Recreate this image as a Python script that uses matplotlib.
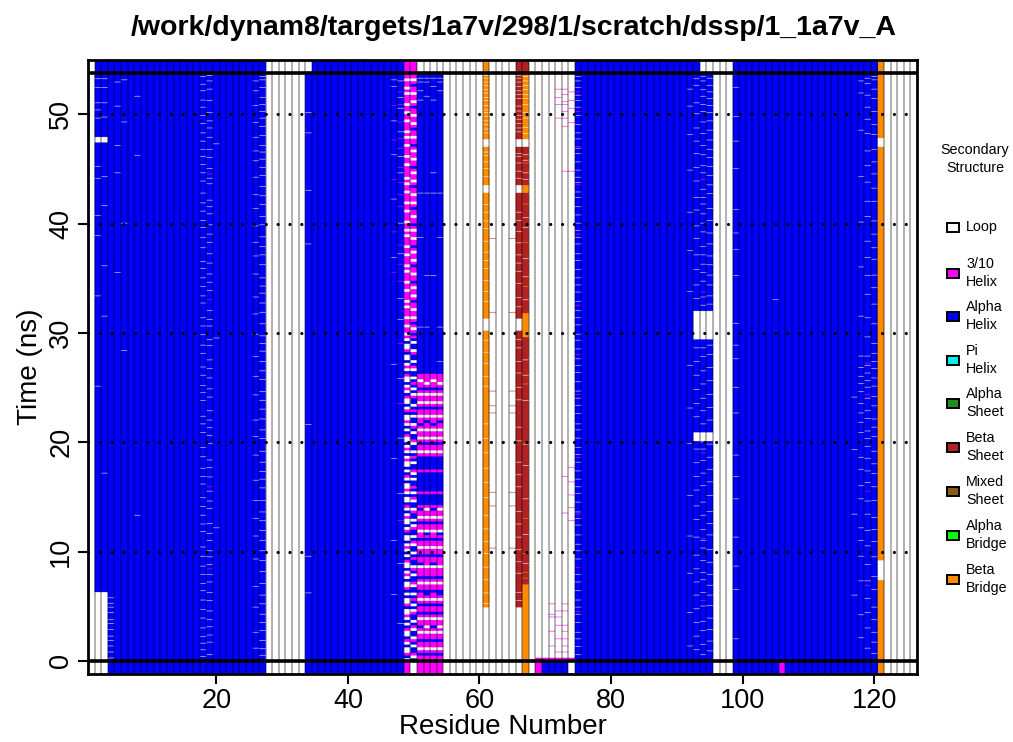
import numpy as np
import matplotlib
matplotlib.use("Agg")
import matplotlib.pyplot as plt
from matplotlib.colors import to_rgb
from matplotlib.patches import Rectangle

plt.rcParams['font.family'] = ['Liberation Sans', 'DejaVu Sans']

# D A T O S
titulo = "/work/dynam8/targets/1a7v/298/1/scratch/dssp/1_1a7v_A"
n_res = 126
t_fin = 53.75      # ns, ultimo frame
dt = 0.05          # ns por fila de la matriz
y_bot, y_top = -1.2, 54.95

estados = ["Loop", "3/10\nHelix", "Alpha\nHelix", "Pi\nHelix", "Alpha\nSheet",
           "Beta\nSheet", "Mixed\nSheet", "Alpha\nBridge", "Beta\nBridge"]
colores = ["#ffffff", "#ff00ff", "#0000ff", "#00eeee", "#228b22",
           "#b22222", "#8b5a14", "#00ff00", "#ff8c00"]
codigos = "LGHIAEMbB"

# estructura por residuo: (codigo, numero de residuos seguidos)
ref_runs = [("L", 1), ("H", 26), ("L", 7), ("H", 14), ("G", 2), ("L", 10), ("B", 1),
            ("L", 4), ("E", 2), ("L", 7), ("H", 19), ("L", 5), ("H", 22), ("B", 1), ("L", 5)]
ini_runs = [("L", 3), ("H", 24), ("L", 6), ("H", 15), ("G", 1), ("L", 1), ("G", 4), ("L", 12),
            ("B", 1), ("L", 1), ("G", 1), ("H", 4), ("L", 1), ("H", 21), ("L", 3), ("H", 7),
            ("G", 1), ("H", 14), ("B", 1), ("L", 5)]
base_runs = [("L", 1), ("H", 26), ("L", 6), ("H", 15), ("G", 2), ("H", 4), ("L", 6), ("B", 1),
             ("L", 4), ("E", 2), ("L", 7), ("H", 21), ("L", 3), ("H", 22), ("B", 1), ("L", 5)]

# tramos: (res_ini, res_fin, t_ini, t_fin, codigo)
tramos = [
    (2, 3, 0.0, 6.3, "L"), (2, 3, 47.4, 47.9, "L"),
    (51, 54, 0.0, 26.2, "G"), (51, 54, 14.2, 18.7, "H"),
    (61, 61, 0.0, 4.9, "L"), (61, 61, 47.0, 47.7, "L"), (61, 61, 42.8, 43.5, "L"),
    (61, 61, 30.2, 31.3, "L"),
    (66, 66, 0.0, 4.9, "L"), (67, 67, 0.0, 7.0, "B"), (67, 67, 47.7, 53.75, "B"),
    (66, 67, 47.0, 47.7, "L"), (66, 66, 42.8, 43.5, "L"), (67, 67, 42.8, 43.5, "B"),
    (66, 66, 30.2, 31.3, "L"), (67, 67, 29.6, 31.8, "B"),
    (69, 74, 0.0, 0.3, "G"),
    (93, 95, 29.4, 32.0, "L"), (93, 95, 20.1, 20.9, "L"),
    (121, 121, 47.0, 47.8, "L"), (121, 121, 7.4, 9.2, "L"),
]

t_puente = [38.6, 31.9, 24.7, 23.3, 22.7, 15.4, 14.2, 10.3]

# rayas finas: (residuo, codigo, tiempos)
rayas = [
    (4, "L", [0.3, 0.8, 1.4, 1.9, 2.3, 2.9, 3.4, 3.8, 4.4, 4.9, 5.3, 5.8]),
    (2, "L", [53.2, 52.4, 51.0, 50.4, 49.6, 45.2, 44.1, 40.7, 38.9, 33.4, 25.1]),
    (3, "L", [53.2, 52.4, 51.0, 49.7, 44.3, 41.6, 36.1, 31.5, 17.2]),
    (5, "L", [52.9, 50.7, 47.1, 44.6, 35.5]),
    (6, "L", [53.1, 49.3, 40.0, 28.4]),
    (8, "L", [51.6, 46.2, 13.3]),
    (18, "L", [53.4, 52.7, 52.1, 51.3, 50.6, 49.9, 49.1, 48.3, 47.5, 46.8, 46.1, 45.4, 44.6,
               43.9, 42.8, 41.9, 41.1, 40.3, 39.6, 38.7, 37.8, 36.5, 35.9, 35.0, 34.2, 33.4,
               32.7, 31.4, 30.6, 29.8, 28.9, 28.1, 26.9, 26.1, 25.2, 24.5, 23.8, 22.4, 21.7,
               20.9, 19.5, 18.7, 17.6, 16.9, 16.2, 14.9, 14.1, 13.3, 12.5, 11.8, 10.4, 9.6,
               8.7, 7.9, 7.1, 6.4, 5.6, 4.7, 3.9, 3.0, 2.2, 1.6, 1.0, 0.4]),
    (19, "L", [53.5, 53.0, 52.3, 51.2, 50.1, 49.4, 48.7, 47.9, 46.8, 46.0, 45.0, 44.1, 43.6,
               42.1, 41.5, 40.9, 39.9, 39.0, 38.3, 37.2, 36.4, 35.4, 34.6, 33.9, 32.0, 31.2,
               30.6, 29.4, 28.8, 27.5, 26.7, 25.9, 24.9, 24.1, 22.9, 22.0, 21.3, 20.6, 19.9,
               18.4, 17.7, 16.8, 15.5, 14.6, 13.9, 12.6, 11.7, 11.0, 10.1, 9.5, 8.8, 7.9,
               7.2, 6.3, 5.5, 4.6, 3.8, 3.1, 2.4, 1.7, 0.6]),
    (19, "G", [44.5, 33.0, 15.9, 8.4]),
    (20, "L", [47.3, 29.5, 12.2]),
    (26, "L", [53.0, 52.1, 50.8, 49.2, 47.9, 46.6, 45.7, 44.2, 42.6, 41.4, 39.8, 38.3, 37.0,
               35.4, 33.3, 31.7, 29.9, 27.8, 26.0, 24.3, 22.0, 20.5, 18.8, 16.5, 14.7, 13.0,
               11.4, 9.3, 6.8, 4.9, 2.6, 1.2]),
    (27, "L", [53.4, 53.1, 52.4, 51.5, 50.9, 50.2, 49.6, 48.9, 48.0, 47.1, 46.5, 45.9, 45.1,
               44.4, 43.4, 42.5, 41.7, 40.6, 39.9, 38.8, 37.9, 37.1, 36.2, 35.0, 34.3, 33.6,
               32.7, 31.9, 30.8, 29.7, 29.0, 28.3, 27.4, 26.5, 25.7, 24.6, 23.8, 23.0, 22.1,
               21.1, 20.3, 19.2, 18.2, 17.3, 16.6, 15.8, 14.7, 13.6, 12.8, 11.9, 11.0, 10.1,
               9.2, 8.2, 7.1, 6.0, 5.2, 4.3, 3.5, 2.8, 1.9, 1.1, 0.5]),
    (34, "L", [50.1, 48.3, 43.0, 38.1, 21.6, 9.6, 6.2]),
    (47, "G", [50.8, 47.6, 44.0, 39.2, 35.5]),
    (47, "L", [53.1, 52.5, 49.4, 46.3, 42.2, 36.9, 27.1, 18.5, 11.0, 6.1]),
    (48, "G", [52.0, 50.9, 49.3, 47.8, 46.9, 45.1, 43.7, 42.6, 41.5, 38.0, 36.3, 34.7, 29.0,
               23.5, 12.8]),
    (48, "L", [53.0, 51.5, 50.5, 48.4, 46.1, 44.6, 40.0, 37.2, 33.1, 31.2, 25.8, 20.4, 15.3,
               8.9, 3.4]),
    (51, "L", [53.3, 52.9, 52.1, 51.3, 42.8, 38.7, 30.5]),
    (52, "L", [53.3, 52.9, 51.6, 42.8, 35.2, 30.5]),
    (53, "L", [53.3, 52.5, 51.3, 42.8, 44.6, 35.2]),
    (54, "L", [53.3, 52.9, 52.1, 42.8, 38.7, 30.5, 27.4]),
    (61, "L", [53.5, 53.3, 52.9, 52.6, 52.2, 51.9, 51.5, 51.2, 50.8, 50.4, 50.1, 49.8, 49.4,
               49.0, 48.6, 48.3, 46.5, 46.2, 45.6, 45.0, 44.3, 41.7, 41.0, 40.2, 39.5, 38.4,
               37.4, 36.6, 35.9, 34.8, 33.8, 32.9, 29.3, 28.2, 27.2, 26.0, 25.1, 21.7, 20.3,
               19.0, 17.6, 16.3, 14.9, 13.3, 12.1, 10.9, 9.8, 8.6, 7.4, 6.2, 5.3]),
    (66, "L", [53.5, 53.3, 52.9, 52.5, 52.1, 51.8, 51.4, 50.7, 50.3, 49.9, 49.5, 49.1, 48.7,
               48.4, 46.4, 46.1, 45.5, 44.8, 44.1, 41.0, 40.3, 39.3, 38.2, 37.1, 36.4, 35.6,
               34.5, 33.2, 32.4, 29.4, 28.6, 27.4, 26.3, 25.0, 23.9, 21.4, 20.1, 18.2, 17.0,
               15.9, 13.7, 12.5, 11.3, 10.2, 9.1, 8.0, 6.3, 5.5]),
    (67, "L", [53.4, 53.0, 52.6, 52.2, 51.8, 51.4, 50.9, 50.1, 49.6, 48.8, 48.2, 46.3, 45.8,
               44.6, 44.0, 40.5, 39.6, 36.8, 35.1, 33.0, 27.5, 26.1, 23.8, 19.8, 17.9, 14.8,
               11.6, 8.9]),
    (67, "B", [45.5, 41.8, 38.3, 34.2, 25.3, 13.0, 9.8, 8.1, 7.6]),
    (62, "E", t_puente),
    (65, "E", t_puente),
    (72, "G", [52.3, 51.5, 50.9, 49.6]),
    (73, "G", [52.3, 51.8, 51.1, 50.9, 50.2, 49.6, 48.9, 44.8, 16.9, 13.5]),
    (74, "G", [52.0, 51.2, 50.5, 49.2, 44.8, 17.7, 16.4, 15.2, 14.0, 12.8]),
    (71, "G", [5.2, 4.3, 4.0, 2.7, 1.4]),
    (72, "G", [4.6, 4.0, 3.3, 2.0, 0.8]),
    (73, "G", [5.2, 4.6, 3.3, 2.7, 2.0, 1.4, 0.8]),
    (75, "L", [53.4, 53.0, 52.4, 51.7, 51.2, 50.6, 49.9, 49.0, 48.3, 47.7, 46.9, 46.4, 45.6,
               44.9, 44.2, 43.7, 42.9, 42.4, 41.5, 40.8, 40.0, 39.4, 38.7, 38.1, 37.2, 36.6,
               35.8, 35.0, 34.4, 33.7, 32.9, 32.0, 31.4, 30.7, 29.9, 29.3, 28.5, 27.6, 27.0,
               26.4, 25.5, 24.7, 24.0, 23.4, 22.6, 21.7, 21.1, 20.4, 19.5, 18.9, 18.2, 17.4,
               16.6, 15.9, 15.3, 14.5, 13.6, 13.0, 12.4, 11.5, 10.7, 10.1, 9.3, 8.5, 7.9,
               7.2, 6.4, 5.6, 4.9, 4.3, 3.5, 2.6, 2.0, 1.3, 0.6]),
    (75, "G", [52.0, 50.2, 47.0, 43.5, 39.0, 32.5, 28.0, 24.4, 18.6, 13.4, 8.5, 4.5]),
    (92, "L", [52.3, 50.7, 48.1, 44.9, 41.0, 37.5, 33.8, 27.0, 23.1, 19.9, 15.1, 11.4, 8.0,
               4.4, 1.4]),
    (93, "L", [53.2, 52.6, 51.0, 50.0, 48.7, 47.5, 46.4, 45.1, 43.9, 42.4, 41.2, 39.8, 38.6,
               37.1, 35.8, 34.4, 33.1, 28.6, 27.4, 26.1, 24.8, 23.5, 22.3, 19.4, 18.1, 16.9,
               15.6, 14.2, 12.9, 11.3, 9.7, 8.4, 7.2, 6.0, 4.8, 3.5, 2.3, 1.0]),
    (94, "L", [53.4, 53.0, 52.2, 51.6, 50.9, 50.2, 49.3, 48.2, 47.1, 46.3, 45.3, 44.6, 43.1,
               42.4, 41.8, 40.9, 40.0, 39.2, 37.9, 37.1, 36.3, 35.5, 34.7, 33.3, 32.5, 28.6,
               27.8, 26.5, 25.3, 24.0, 22.9, 21.7, 20.0, 19.4, 18.3, 17.2, 16.0, 14.5, 13.3,
               12.0, 11.0, 10.3, 9.2, 8.1, 7.4, 6.3, 5.0, 3.6, 2.8, 1.5, 0.6]),
    (94, "G", [44.0, 33.7, 19.0, 11.2, 5.5]),
    (95, "L", [53.3, 52.6, 52.0, 51.4, 50.8, 50.1, 49.4, 48.5, 47.6, 46.8, 46.0, 45.2, 44.4,
               43.5, 42.7, 41.4, 40.3, 39.1, 38.1, 37.0, 36.2, 35.3, 34.4, 33.4, 32.6, 28.9,
               28.0, 26.8, 25.6, 24.4, 23.2, 22.0, 19.8, 18.6, 17.5, 16.4, 15.1, 13.7, 12.6,
               11.5, 10.2, 9.0, 7.9, 6.9, 6.0, 5.1, 3.9, 2.9, 1.8, 0.9]),
    (99, "L", [52.4, 49.8, 47.5, 45.0, 41.3, 39.1, 37.6, 35.2, 30.9, 28.9, 27.6, 25.0, 22.7,
               18.8, 16.9, 14.8, 11.3, 8.7, 6.5, 2.0]),
    (105, "L", [33.0]),
    (117, "L", [24.1, 19.3, 13.4, 6.0]),
    (118, "L", [53.0, 51.9, 48.5, 44.3, 40.1, 36.0, 31.5, 27.9, 26.8, 26.0, 25.4, 24.6, 23.5,
                22.7, 21.8, 20.9, 18.6, 17.5, 16.0, 14.8, 12.2, 11.0, 9.6, 7.3, 4.2, 2.1]),
    (119, "L", [53.3, 52.8, 51.7, 50.6, 49.5, 48.2, 46.6, 45.3, 43.8, 42.0, 40.6, 38.4, 36.9,
                35.2, 33.5, 31.4, 29.6, 27.9, 27.0, 26.3, 25.6, 25.0, 24.0, 22.9, 22.2, 21.0,
                20.3, 19.6, 18.5, 17.4, 16.3, 14.6, 13.4, 11.9, 10.5, 8.8, 7.3, 5.7, 4.4,
                3.0, 1.2]),
    (119, "G", [27.2, 24.4, 15.5, 6.9]),
    (120, "L", [53.4, 53.1, 52.3, 51.4, 50.2, 49.0, 48.1, 46.8, 45.6, 44.5, 43.2, 42.0, 40.2,
                39.0, 37.8, 36.7, 35.3, 34.1, 32.6, 30.8, 29.0, 28.1, 27.4, 26.7, 25.9, 25.1,
                24.2, 23.3, 22.1, 21.4, 20.5, 19.2, 18.0, 17.1, 15.9, 14.7, 13.1, 12.0, 10.9,
                9.5, 7.7, 6.5, 4.9, 3.8, 2.6, 1.7, 0.7]),
]

# columnas mezcladas: un caracter cada 0.25 ns desde t=0 ("." = sin cambio)
mezcla_a = ("GGHGLGGHGGLGHGGLGHGGHGLGGHGGLGHGGGLHGGHGGLGGHGGLGGHGLGGHG"
            ".H..G...H...G..H.."
            "GLGGHGLGGLGHGGLGGHGLGGLGHGGLGG")
mezcla_b = ("GGHGLGGHGGLGLGGLGHGGHGLGHHGGLGHGGGLGGGHGGLGGHGHLGGHGLGGLG"
            ".H..G.....H.G..H.."
            "GLGGHGLGGLGGHGLGGHGLGGLGHGLGGG")
mezcla = {
    49: "LHGLLHLGHLLGHLHLGLLHGLLHLHGLLHLGLHLLGHLHLGLHLLHGLHLLGLHLGHLL"
        "HLGLLHLGHLHLLGLHLGLHLLGHLHLGLLHGLHLLGHLGLHLLGHLGLHLLHGLLHLGL"
        "GGLGGLGGGLGLGGGLGGLGGGLGLGGGLGGLGGGLGLGGLGGGLGGLGGGLGGLGLGGG"
        "GLGGLGGGLGGLGLGGGLGGLGGLGGGLGLGGLGG",
    50: "HLGHHLHGLHHLGHLHHGLHLHGHLHHLGHHLHGLHHGHLHHLGHLHHGLHLHHGLHHLG"
        "HLHGHHLHLGHHLHGHLHHLGHHLHGLHHLHGHLHHGLHLHGHLHHLGHLHHGLHHLHGH"
        "GLGHGLGGLGGHGLGGLGHGGLGGHGLGGLGHGGLGGLGHGGLGGHGLGGLGGHGLGGLG"
        "HGGLGGLGHGGLGGHGLGGLGGHGLGGLGGHGLGG",
    51: mezcla_a,
    52: mezcla_b,
    53: mezcla_a,
    54: mezcla_b,
}

# C O N S T R U C C I O N  D E  L A  M A T R I Z
def expandir(runs):
    return "".join(c * n for c, n in runs)

nf = int(round(t_fin / dt))
fila_base = [codigos.index(c) for c in expandir(base_runs)]
mat = np.array([fila_base] * nf)

for r0, r1, t0, t1, c in tramos:
    mat[int(round(t0 / dt)):int(round(t1 / dt)), r0 - 1:r1] = codigos.index(c)
for res, s in mezcla.items():
    for k, c in enumerate(s):
        if c != ".":
            mat[k * 5:(k + 1) * 5, res - 1] = codigos.index(c)
for res, c, tiempos in rayas:
    for t in tiempos:
        i = int(t / dt)
        mat[i:i + 1, res - 1] = codigos.index(c)

fila_ref = np.array([[codigos.index(c) for c in expandir(ref_runs)]])
fila_ini = np.array([[codigos.index(c) for c in expandir(ini_runs)]])

# paso a RGB (columnas repetidas para que el suavizado solo mezcle en vertical)
rgb = np.array([to_rgb(c) for c in colores])
img = np.repeat(rgb[mat], 8, axis=1)

# G R A F I C A
fig = plt.figure(figsize=(10.13, 7.42), dpi=100)
ax = fig.add_axes([0.0869, 0.0916, 0.8183, 0.8275])

ax.imshow(img, extent=(0.5, n_res + 0.5, 0, t_fin), origin="lower", aspect="auto",
          interpolation="hanning")
ax.imshow(rgb[fila_ref], extent=(0.5, n_res + 0.5, t_fin, y_top), origin="lower",
          aspect="auto", interpolation="nearest")
ax.imshow(rgb[fila_ini], extent=(0.5, n_res + 0.5, y_bot, 0), origin="lower",
          aspect="auto", interpolation="nearest")

ax.vlines(np.arange(1.5, n_res, 1), y_bot, y_top, colors="k", alpha=0.33, lw=1.3)
ax.hlines([10, 20, 30, 40, 50], 0.5, n_res + 0.5, colors="k", lw=2.3,
          linestyles=[(0, (0.01, 3.7))], capstyle="round")
ax.hlines([0, t_fin], 0.5, n_res + 0.5, colors="k", lw=2.6)

ax.set_xlim(0.5, n_res + 0.5)
ax.set_ylim(y_bot, y_top)
for s in ax.spines.values():
    s.set_linewidth(2.0)

ax.set_xticks([20, 40, 60, 80, 100, 120])
ax.set_yticks([0, 10, 20, 30, 40, 50])
ax.tick_params(labelsize=19.5, length=7, width=1.5, pad=3)
for lbl in ax.get_yticklabels():
    lbl.set_rotation(90)
    lbl.set_va("center")
ax.set_xlabel("Residue Number", fontsize=20, labelpad=0)
ax.set_ylabel("Time (ns)", fontsize=20, labelpad=4)

fig.text(514 / 1013, 1 - 28 / 742, titulo, ha="center", va="center",
         fontsize=20.5, fontweight="bold")

# leyenda
W, H = 1013.0, 742.0
fig.text(975 / W, 1 - 159 / H, "Secondary\nStructure", ha="center", va="center",
         fontsize=10.3, linespacing=1.45)
ys = [227, 273, 316, 360, 403, 447, 491, 535, 579]
for nombre, col, y in zip(estados, colores, ys):
    fig.add_artist(Rectangle((947 / W, 1 - (y + 5) / H), 12 / W, 9 / H,
                             transform=fig.transFigure, facecolor=col,
                             edgecolor="k", lw=1.4))
    fig.text(966 / W, 1 - y / H, nombre, ha="left", va="center",
             fontsize=10.3, linespacing=1.35)

plt.savefig("out.png", dpi=100)
